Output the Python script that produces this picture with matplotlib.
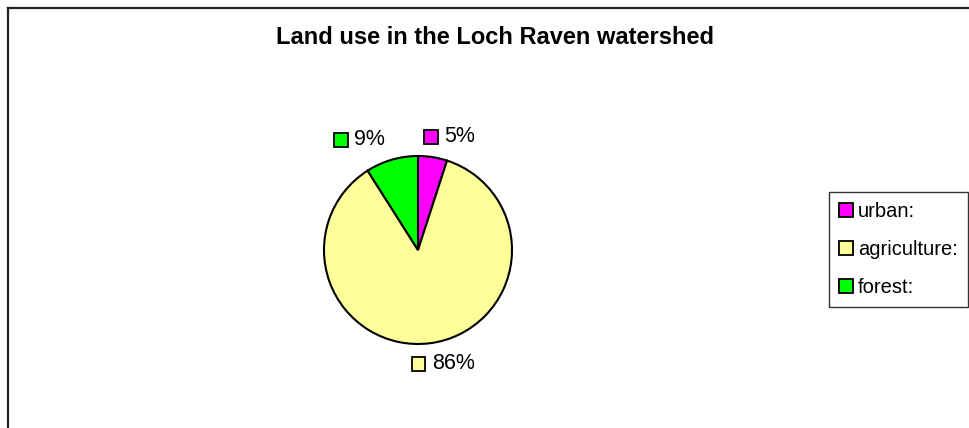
import numpy as np
import matplotlib
matplotlib.use("Agg")
import matplotlib.pyplot as plt
from matplotlib.patches import Rectangle, Patch
from matplotlib.lines import Line2D
from matplotlib.offsetbox import AnnotationBbox, HPacker, TextArea, DrawingArea

plt.rcParams['font.family'] = ['Liberation Sans', 'DejaVu Sans']

# data
categories = ['urban:', 'agriculture:', 'forest:']
shares = [5, 86, 9]
pct_labels = ['5%', '86%', '9%']
colors = ['#FF00FF', '#FFFF99', '#00FF00']

W, H = 969, 428
fig = plt.figure(figsize=(W / 100, H / 100), dpi=100)

# frame around the chart area (top and left edges only visible)
fig.add_artist(Line2D([8 / W, 8 / W], [0, 1 - 8 / H], color='#222222', lw=1.6,
                      transform=fig.transFigure))
fig.add_artist(Line2D([8 / W, 1], [1 - 8 / H, 1 - 8 / H], color='#222222', lw=1.6,
                      transform=fig.transFigure))

fig.text(494.5 / W, 1 - 37 / H, 'Land use in the Loch Raven watershed',
         ha='center', va='center', fontsize=17, fontweight='bold')

# pie axes: centre (418, 250) px, radius 94 px
r_px = 94
cx, cy = 418, 250
half = 160
ax = fig.add_axes([(cx - half) / W, (H - cy - half) / H, 2 * half / W, 2 * half / H])
wedges, _ = ax.pie(shares, colors=colors, startangle=90, counterclock=False,
                   wedgeprops=dict(edgecolor='black', linewidth=1.5))
lim = half / r_px
ax.set_xlim(-lim, lim)
ax.set_ylim(-lim, lim)
ax.set_aspect('equal')
ax.axis('off')

# data labels with a small colour key, placed outside each wedge
for w, lab, col in zip(wedges, pct_labels, colors):
    ang = np.deg2rad((w.theta1 + w.theta2) / 2)
    x = 2.1 * np.cos(ang)
    y = 1.22 * np.sin(ang)
    if x < 0:
        x -= 0.04
    da = DrawingArea(11, 11, 0, 0)
    da.add_artist(Rectangle((0.5, 0.5), 10, 10, facecolor=col, edgecolor='black', lw=1.3))
    ta = TextArea(lab, textprops=dict(fontsize=15.5))
    box = HPacker(children=[da, ta], align='center', pad=0, sep=4)
    ab = AnnotationBbox(box, (x, y), xycoords='data', frameon=False,
                        box_alignment=(0.5, 0.5), pad=0)
    ax.add_artist(ab)

handles = [Patch(facecolor=c, edgecolor='black', lw=1.3) for c in colors]
leg = fig.legend(handles, categories, loc='upper left',
                 bbox_to_anchor=(829 / W, 1 - 192 / H), fontsize=14.5,
                 frameon=True, fancybox=False, edgecolor='black',
                 handlelength=0.7, handleheight=0.7, handletextpad=0.25,
                 labelspacing=0.95, borderpad=0.5, borderaxespad=0)
leg.get_frame().set_linewidth(1.0)

fig.savefig('out.png', dpi=100)
